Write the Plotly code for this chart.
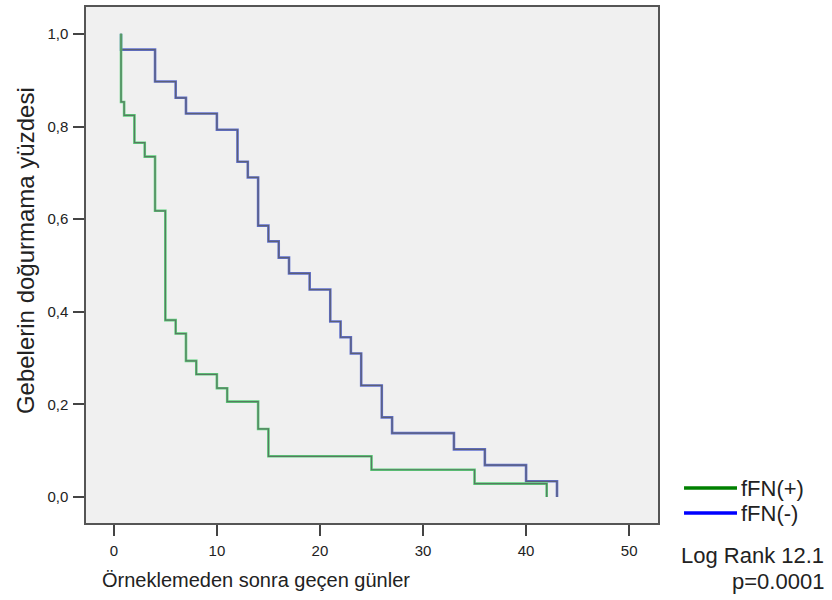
import plotly.graph_objects as go

# Kaplan-Meier step data
neg_times = [0.7, 0.7, 4, 6, 7, 10, 12, 13, 14, 15, 16, 17, 19, 21, 22, 23, 24, 26, 27, 33, 36, 40, 43]
neg_surv = [1.0, 0.966, 0.897, 0.862, 0.828, 0.793, 0.724, 0.690, 0.586, 0.552, 0.517, 0.483,
            0.448, 0.379, 0.345, 0.310, 0.241, 0.172, 0.138, 0.103, 0.069, 0.034, 0.0]

pos_times = [0.7, 0.7, 1, 2, 3, 4, 5, 6, 7, 8, 10, 11, 14, 15, 25, 35, 42]
pos_surv = [1.0, 0.853, 0.824, 0.765, 0.735, 0.618, 0.382, 0.353, 0.294, 0.265, 0.235,
            0.206, 0.147, 0.088, 0.059, 0.029, 0.0]

x_ticks = [0, 10, 20, 30, 40, 50]
y_ticks = [0.0, 0.2, 0.4, 0.6, 0.8, 1.0]
y_ticktext = ["0,0", "0,2", "0,4", "0,6", "0,8", "1,0"]

series_names = ["fFN(+)", "fFN(-)"]
legend_colors = ["#008000", "#0000ff"]
stats_text = ["Log Rank 12.1", "p=0.0001"]

FONT = "Liberation Sans, Arial"

fig = go.Figure()

def add_curve(t, s, color, name):
    fig.add_trace(go.Scatter(x=t, y=s, mode="lines", line=dict(shape="hv", color=color, width=2.6),
                             name=name, showlegend=False, hoverinfo="skip"))
    fig.add_trace(go.Scatter(x=t, y=s, mode="lines", line=dict(shape="hv", color="rgba(90,90,90,0.75)", width=1.2),
                             showlegend=False, hoverinfo="skip"))

add_curve(neg_times, neg_surv, "#6070d0", series_names[1])
add_curve(pos_times, pos_surv, "#5ad27a", series_names[0])

axis_common = dict(showline=True, linecolor="#555555", linewidth=1.5, mirror=True,
                   ticks="outside", ticklen=11, tickwidth=2, tickcolor="#444444",
                   showgrid=False, zeroline=False,
                   tickfont=dict(family=FONT, size=15, color="#222222"))

fig.update_xaxes(range=[-2.7, 52.8], tickvals=x_ticks, ticklabelstandoff=2, **axis_common)
fig.update_yaxes(range=[-0.056, 1.058], tickvals=y_ticks, ticktext=y_ticktext, ticklabelstandoff=2, **axis_common)

annotations = [
    dict(text="Örneklemeden sonra geçen günler", xref="paper", yref="paper", x=(100 - 86) / 572, y=-0.110,
         xanchor="left", yanchor="middle", showarrow=False,
         font=dict(family=FONT, size=20, color="#222222")),
    dict(text="Gebelerin doğurmama yüzdesi", xref="paper", yref="paper", x=-0.1066, y=0.527,
         xanchor="center", yanchor="middle", textangle=-90, showarrow=False,
         font=dict(family=FONT, size=24, color="#222222")),
]

legend_y = [0.0676, 0.0193]
shapes = []
for name, col, ly in zip(series_names, legend_colors, legend_y):
    shapes.append(dict(type="line", xref="paper", yref="paper", x0=1.0455, x1=1.1381, y0=ly, y1=ly,
                       line=dict(color=col, width=3.5)))
    annotations.append(dict(text=name, xref="paper", yref="paper", x=1.1416, y=ly,
                            xanchor="left", yanchor="middle", showarrow=False,
                            font=dict(family=FONT, size=22, color="#222222")))

for txt, sy in zip(stats_text, [-0.0637, -0.1139]):
    annotations.append(dict(text=txt, xref="paper", yref="paper", x=1.294, y=sy,
                            xanchor="right", yanchor="middle", showarrow=False,
                            font=dict(family=FONT, size=22, color="#222222")))

fig.update_layout(width=832, height=600, margin=dict(l=86, r=174, t=5, b=77),
                  plot_bgcolor="#f0f0f0", paper_bgcolor="white",
                  annotations=annotations, shapes=shapes, showlegend=False)

fig.write_html("out.html", config={"displayModeBar": False},
               post_script="document.body.style.margin='0';")
